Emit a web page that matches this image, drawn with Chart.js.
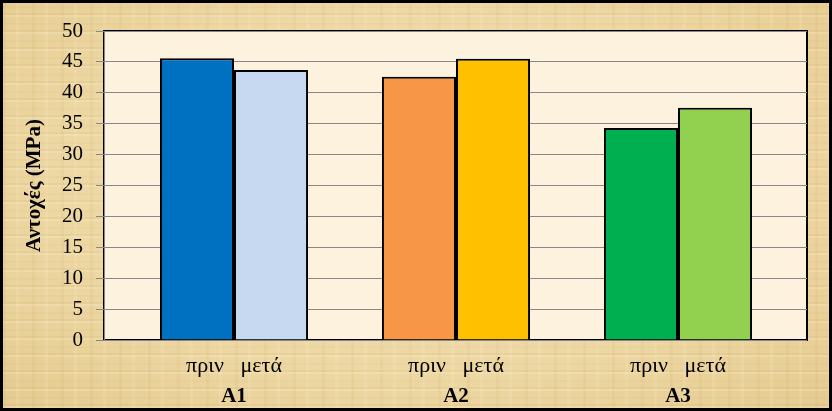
<!DOCTYPE html>
<html>
<head>
<meta charset="utf-8">
<script src="https://cdn.jsdelivr.net/npm/chart.js@4.4.1/dist/chart.umd.min.js"></script>
<style>
  html, body { margin: 0; padding: 0; background: #000; }
  #wrap {
    position: relative;
    width: 832px; height: 411px;
    box-sizing: border-box;
    border: 3px solid #000;
    background:
      repeating-linear-gradient(0deg, rgba(255,250,225,0.18) 0 2px, rgba(170,130,55,0.08) 2px 4px, transparent 4px 9px, rgba(200,160,80,0.07) 9px 11px, transparent 11px 17px),
      repeating-linear-gradient(90deg, rgba(165,125,50,0.06) 0 3px, transparent 3px 13px, rgba(255,248,220,0.12) 13px 16px, transparent 16px 29px),
      radial-gradient(ellipse at 50% 45%, #F3E2B4 0%, #EDD7A3 60%, #E5CB90 100%);
  }
  canvas { display: block; }
</style>
</head>
<body>
<div id="wrap"><canvas id="c" width="826" height="405"></canvas></div>
<script>
// ---- data ----
const categories = ["A1", "A2", "A3"];
const subLabel = "πριν   μετά";
const beforeValues = [45.6, 42.6, 34.3];
const afterValues = [43.7, 45.5, 37.6];
const beforeColors = ["#0070C0", "#F79646", "#00B050"];
const afterColors = ["#C6D9F1", "#FFC000", "#92D050"];
const yTicks = [0, 5, 10, 15, 20, 25, 30, 35, 40, 45, 50];
const yTitle = "Αντοχές (MPa)";

const FONT = "'Liberation Serif', 'DejaVu Serif', serif";

const plotBg = {
  id: "plotBg",
  beforeDraw(chart) {
    const { ctx, chartArea: a } = chart;
    ctx.save();
    ctx.fillStyle = "#FDF2DD";
    ctx.fillRect(a.left, a.top, a.right - a.left, a.bottom - a.top);
    ctx.strokeStyle = "#000";
    ctx.lineWidth = 2;
    ctx.strokeRect(a.left, a.top, a.right - a.left, a.bottom - a.top);
    ctx.restore();
  }
};

const fixedTicks = (scale) => {
  scale.ticks = categories.map((c, i) => ({ value: i + 1 }));
};

new Chart(document.getElementById("c"), {
  type: "bar",
  data: {
    datasets: [
      {
        label: "πριν",
        data: beforeValues.map((v, i) => ({ x: i + 1, y: v })),
        backgroundColor: beforeColors,
        borderColor: "#000",
        borderWidth: 2,
        xAxisID: "x"
      },
      {
        label: "μετά",
        data: afterValues.map((v, i) => ({ x: i + 1, y: v })),
        backgroundColor: afterColors,
        borderColor: "#000",
        borderWidth: 2,
        xAxisID: "x"
      }
    ]
  },
  options: {
    responsive: false,
    animation: false,
    devicePixelRatio: 1,
    categoryPercentage: 0.667,
    barPercentage: 1,
    layout: { padding: { top: 28, right: 22, bottom: 0, left: 0 } },
    plugins: { legend: { display: false }, tooltip: { enabled: false } },
    scales: {
      x: {
        type: "linear",
        position: "bottom",
        offset: false,
        weight: 0,
        min: 0.4144,
        max: 3.5811,
        afterBuildTicks: fixedTicks,
        afterFit: (s) => { s.height = 40; },
        grid: { display: false, drawTicks: false },
        border: { display: false },
        ticks: {
          autoSkip: false, maxRotation: 0, padding: 13,
          color: "#000",
          font: { family: FONT, size: 22 },
          callback: () => subLabel
        }
      },
      x2: {
        type: "linear",
        position: "bottom",
        offset: false,
        weight: 1,
        min: 0.4144,
        max: 3.5811,
        afterBuildTicks: fixedTicks,
        afterFit: (s) => { s.height = 28; },
        grid: { display: false, drawTicks: false },
        border: { display: false },
        ticks: {
          autoSkip: false, maxRotation: 0, padding: 4,
          color: "#000",
          font: { family: FONT, size: 21, weight: "bold" },
          callback: (v) => categories[Math.round(v) - 1]
        }
      },
      y: {
        min: 0,
        max: 50,
        afterBuildTicks: (s) => { s.ticks = yTicks.map(v => ({ value: v })); },
        afterFit: (s) => { s.width = 101; },
        grid: { color: "#878787", lineWidth: 1, tickLength: 8 },
        border: { color: "#878787", width: 1 },
        ticks: {
          padding: 13,
          color: "#000",
          font: { family: FONT, size: 21 }
        },
        title: {
          display: true,
          text: yTitle,
          color: "#000",
          padding: { top: 19, bottom: 0 },
          font: { family: FONT, size: 21, weight: "bold" }
        }
      }
    }
  },
  plugins: [plotBg]
});
</script>
</body>
</html>
